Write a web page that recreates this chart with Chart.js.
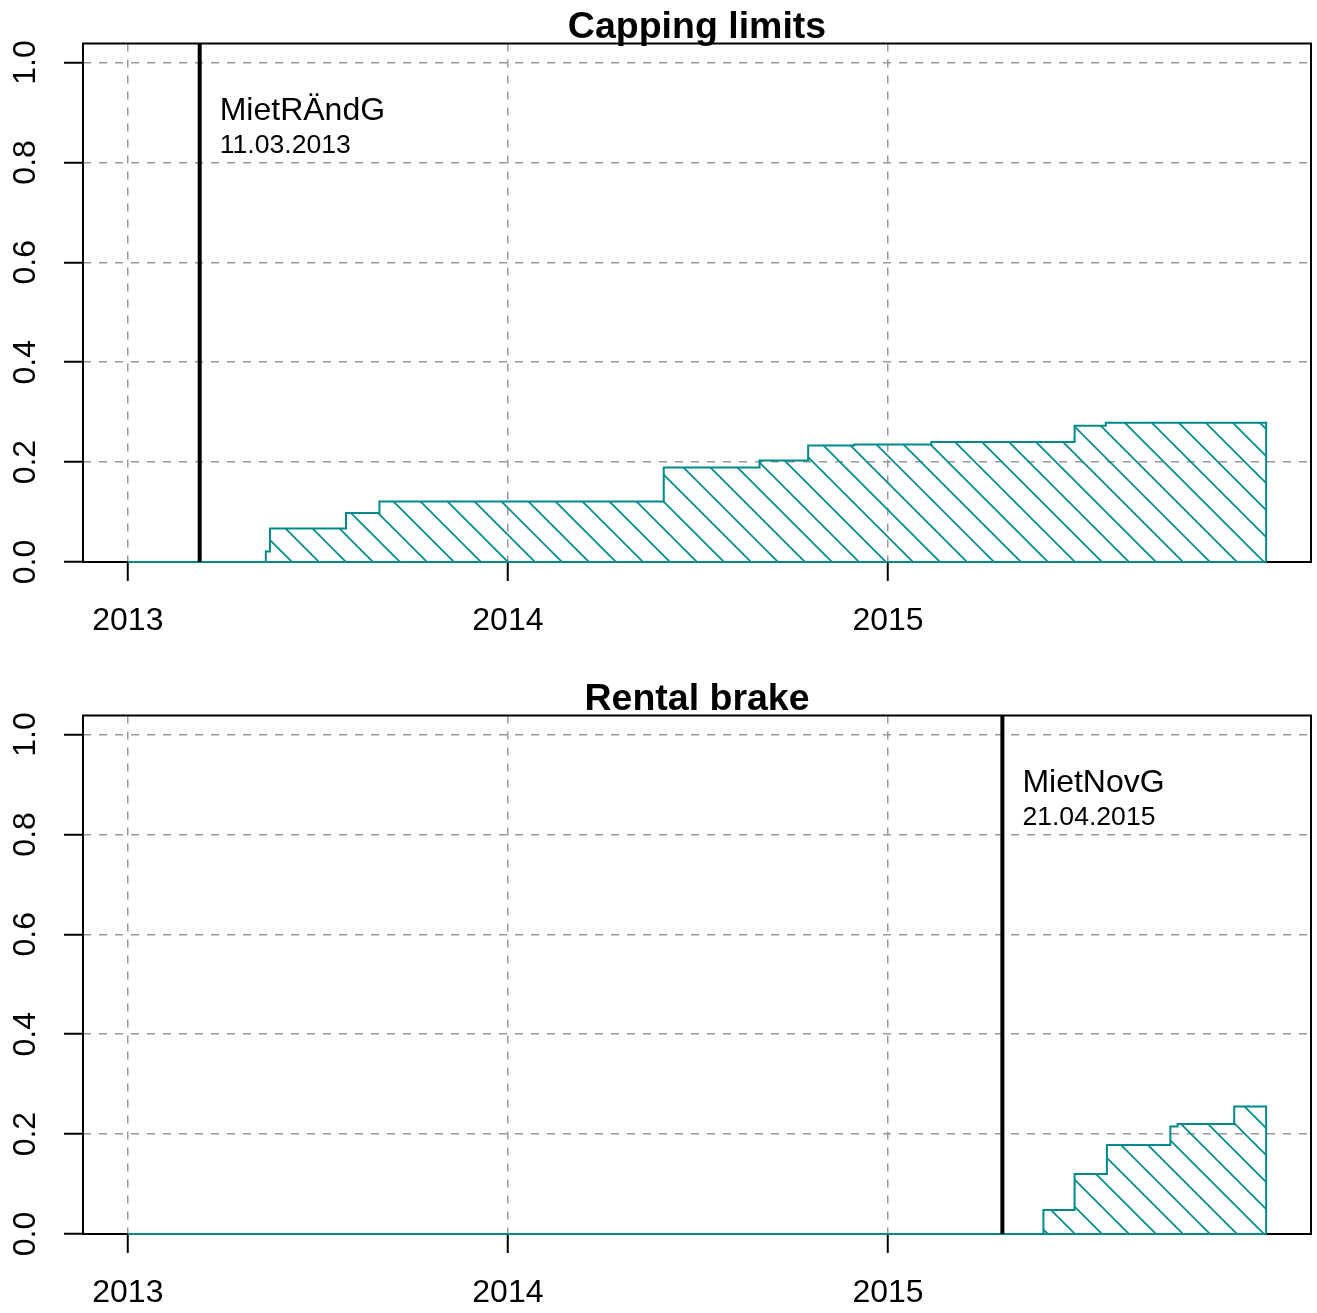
<!DOCTYPE html>
<html>
<head>
<meta charset="utf-8">
<script src="https://cdn.jsdelivr.net/npm/chart.js@4.4.1/dist/chart.umd.min.js"></script>
<style>
  html, body { margin: 0; padding: 0; background: #fff; overflow: hidden; }
  canvas { position: absolute; left: 0; }
  #capping-chart { top: 0; }
  #brake-chart { top: 672px; }
</style>
</head>
<body>
<canvas id="capping-chart" width="1317" height="672"></canvas>
<canvas id="brake-chart" width="1317" height="672"></canvas>
<script>
// step data: value changes to y[i] at year x[i]
const cappingYears = [2013, 2013.363, 2013.374, 2013.574, 2013.662, 2014.410, 2014.662, 2014.790, 2014.911, 2015.114, 2015.491, 2015.573, 2015.995];
const cappingShare = [0, 0.021, 0.067, 0.098, 0.121, 0.189, 0.203, 0.233, 0.235, 0.240, 0.273, 0.279, 0];

const brakeYears = [2013, 2015.409, 2015.491, 2015.576, 2015.743, 2015.762, 2015.911, 2015.995];
const brakeShare = [0, 0.048, 0.120, 0.178, 0.215, 0.220, 0.255, 0];

const xTicks = [2013, 2014, 2015];
const yTicks = [0, 0.2, 0.4, 0.6, 0.8, 1.0];

// law events
const cappingEvent = { year: 2013.189, name: 'MietRÄndG', date: '11.03.2013' };
const brakeEvent = { year: 2015.301, name: 'MietNovG', date: '21.04.2015' };

const FONT = '"Liberation Sans", Arial, sans-serif';
const TEAL = '#008b8b';

function makeHatch() {
    // diagonal "\" lines, 27px apart
    const s = 27;
    const c = document.createElement('canvas');
    c.width = s;
    c.height = s;
    const g = c.getContext('2d');
    g.strokeStyle = TEAL;
    g.lineWidth = 1.7;
    for (let k = -1; k <= 1; k++) {
        g.beginPath();
        g.moveTo(-2, -2 + k * s);
        g.lineTo(s + 2, s + 2 + k * s);
        g.stroke();
    }
    return g.createPattern(c, 'repeat');
}

const framePlugin = {
    id: 'frame',
    beforeDatasetsDraw(chart) {
        const a = chart.chartArea;
        const ctx = chart.ctx;
        ctx.save();
        ctx.strokeStyle = '#000';
        ctx.lineWidth = 2;
        ctx.strokeRect(a.left, a.top, a.right - a.left, a.bottom - a.top);
        ctx.restore();
    },
    afterDatasetsDraw(chart, args, opts) {
        const a = chart.chartArea;
        const ctx = chart.ctx;
        const x = chart.scales.x.getPixelForValue(opts.event.year);
        ctx.save();
        ctx.strokeStyle = '#000';
        ctx.lineWidth = 4;
        ctx.beginPath();
        ctx.moveTo(x, a.top);
        ctx.lineTo(x, a.bottom);
        ctx.stroke();
        ctx.fillStyle = '#000';
        ctx.textAlign = 'left';
        ctx.textBaseline = 'middle';
        ctx.font = '32px ' + FONT;
        ctx.fillText(opts.event.name, x + 20, chart.scales.y.getPixelForValue(0.902));
        ctx.font = '26.6px ' + FONT;
        ctx.fillText(opts.event.date, x + 20, chart.scales.y.getPixelForValue(0.834));
        ctx.restore();
    }
};

function setupChart(id, title, years, values, event) {
    const canvas = document.getElementById(id);
    const ctx = canvas.getContext('2d');
    const points = years.map((x, i) => ({ x: x, y: values[i] }));
    const lastYear = years[years.length - 1];
    const config = {
        type: 'line',
        data: {
            datasets: [{
                data: points,
                stepped: 'before',
                borderColor: TEAL,
                borderWidth: 2,
                backgroundColor: makeHatch(),
                fill: 'origin',
                pointRadius: 0,
                clip: false,
                tension: 0
            }, {
                // bottom edge of the hatched polygon
                data: [{ x: years[0], y: 0 }, { x: lastYear, y: 0 }],
                borderColor: TEAL,
                borderWidth: 2,
                fill: false,
                clip: false,
                pointRadius: 0
            }]
        },
        options: {
            responsive: false,
            animation: false,
            devicePixelRatio: 1,
            layout: { padding: { left: 0, right: 6, top: 0, bottom: 0 } },
            plugins: {
                legend: { display: false },
                tooltip: { enabled: false },
                title: {
                    display: true,
                    text: title,
                    fullSize: false,
                    color: '#000',
                    font: { family: FONT, size: 37.5, weight: 'bold', lineHeight: 1 },
                    padding: { top: 9, bottom: -3 }
                },
                frame: { event: event }
            },
            scales: {
                x: {
                    type: 'linear',
                    min: 2012.882,
                    max: 2016.113,
                    afterBuildTicks: (scale) => { scale.ticks = xTicks.map(v => ({ value: v })); },
                    afterFit: (scale) => { scale.height = 110; },
                    ticks: {
                        color: '#000',
                        font: { family: FONT, size: 32 },
                        padding: 21,
                        maxRotation: 0,
                        callback: (v) => String(v)
                    },
                    grid: {
                        color: '#9a9a9a',
                        lineWidth: 1.5,
                        tickLength: 19,
                        tickColor: '#000',
                        tickWidth: 2,
                        tickBorderDash: []
                    },
                    border: { display: false, dash: [8, 8] }
                },
                y: {
                    min: 0,
                    max: 1.038,
                    afterBuildTicks: (scale) => { scale.ticks = yTicks.map(v => ({ value: v })); },
                    afterFit: (scale) => { scale.width = 83; },
                    ticks: {
                        color: '#000',
                        font: { family: FONT, size: 32 },
                        padding: 16,
                        minRotation: 90,
                        maxRotation: 90,
                        crossAlign: 'center',
                        callback: (v) => v.toFixed(1)
                    },
                    grid: {
                        color: '#9a9a9a',
                        lineWidth: 1.5,
                        tickLength: 19,
                        tickColor: '#000',
                        tickWidth: 2,
                        tickBorderDash: []
                    },
                    border: { display: false, dash: [8, 8] }
                }
            }
        },
        plugins: [framePlugin]
    };
    return new Chart(ctx, config);
}

const cappingChart = setupChart('capping-chart', 'Capping limits', cappingYears, cappingShare, cappingEvent);
const brakeChart = setupChart('brake-chart', 'Rental brake', brakeYears, brakeShare, brakeEvent);
</script>
</body>
</html>
